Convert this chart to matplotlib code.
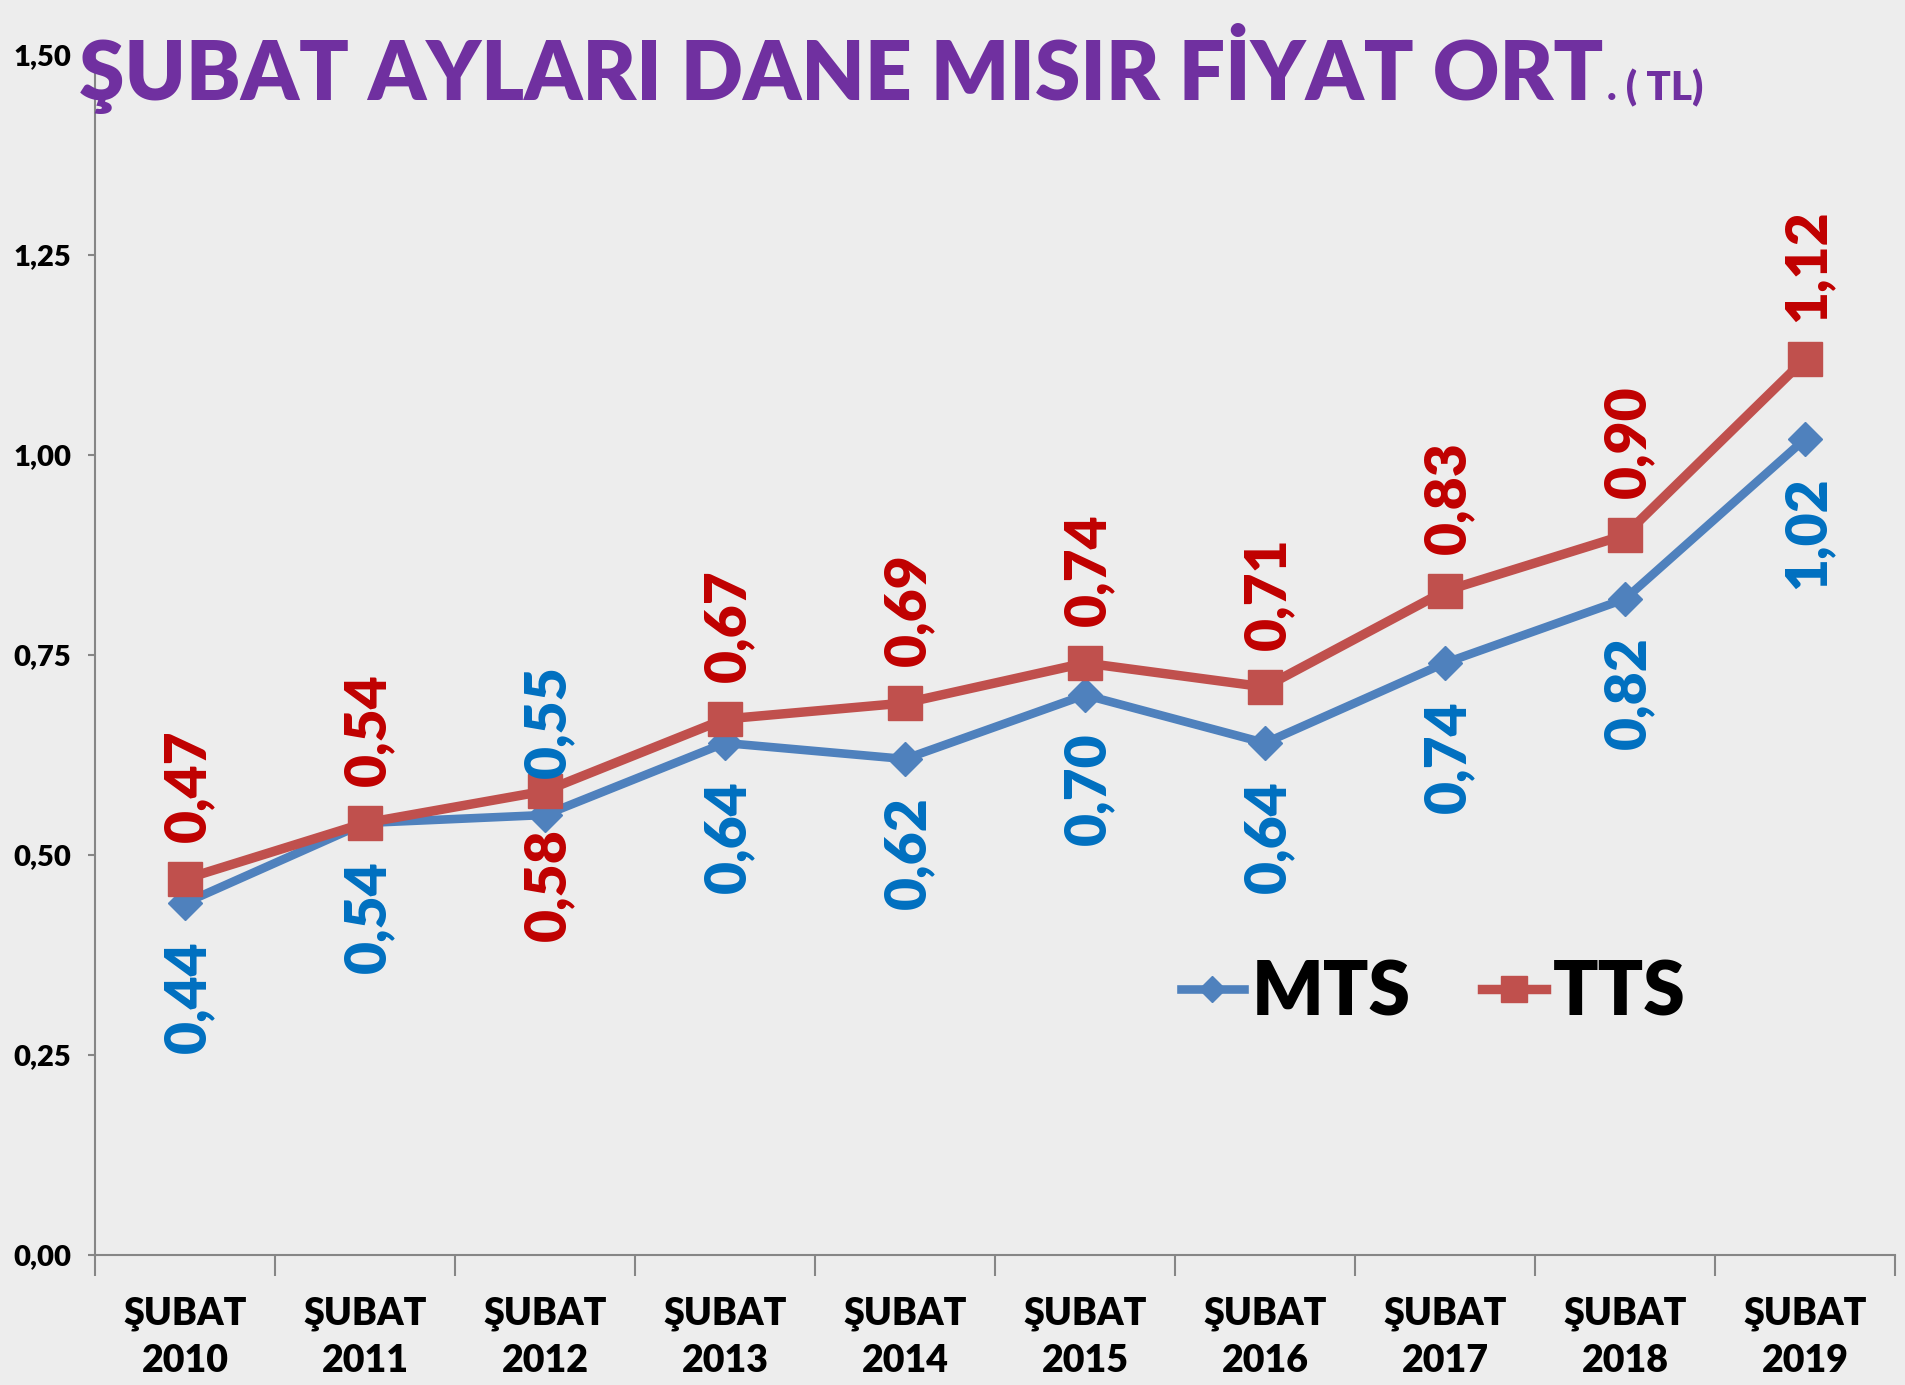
import matplotlib.pyplot as plt
from matplotlib.ticker import FixedLocator, FuncFormatter

plt.rcParams['font.family'] = ['Lato', 'DejaVu Sans']
plt.rcParams['font.weight'] = 'bold'

years = ["2010", "2011", "2012", "2013", "2014", "2015", "2016", "2017", "2018", "2019"]
mts = [0.44, 0.54, 0.55, 0.64, 0.62, 0.70, 0.64, 0.74, 0.82, 1.02]
tts = [0.47, 0.54, 0.58, 0.67, 0.69, 0.74, 0.71, 0.83, 0.90, 1.12]
# label above (+1) or below (-1) the point
mts_side = [-1, -1, 1, -1, -1, -1, -1, -1, -1, -1]
tts_side = [1, 1, -1, 1, 1, 1, 1, 1, 1, 1]
yticks = [0, 0.25, 0.5, 0.75, 1.0, 1.25, 1.5]

fig = plt.figure(figsize=(19.05, 13.85), dpi=100)
fig.patch.set_facecolor('#EDEDED')
ax = fig.add_axes([95/1905, 1 - 1255/1385, 1800/1905, 1200/1385])
ax.set_facecolor('none')

x = list(range(len(years)))
ax.plot(x, mts, color='#4F81BD', lw=6.2, marker='D', ms=17, label='MTS', zorder=3)
ax.plot(x, tts, color='#C0504D', lw=6.8, marker='s', ms=24, label='TTS', zorder=4)

def fmt(v):
    return f"{v:.2f}".replace('.', ',')

for i in x:
    for vals, side, col in ((mts, mts_side, '#0070C0'), (tts, tts_side, '#C00000')):
        ax.annotate(fmt(vals[i]), (i, vals[i]), xytext=(2, 27 * side[i]), textcoords='offset points',
                    rotation=90, ha='center', va='bottom' if side[i] > 0 else 'top',
                    fontsize=41, fontweight='heavy', color=col, zorder=5)

ax.set_xlim(-0.5, len(years) - 0.5)
ax.set_ylim(0, 1.5)
ax.set_yticks(yticks)
ax.yaxis.set_major_formatter(FuncFormatter(lambda v, p: fmt(v)))
ax.tick_params(axis='y', length=5, width=1.5, color='#868686', pad=12, labelsize=21)
for lbl in ax.get_yticklabels():
    lbl.set_fontweight('heavy')
ax.set_xticks(x)
ax.set_xticklabels(["ŞUBAT\n" + y for y in years], fontsize=27, fontweight='heavy', linespacing=1.45)
ax.tick_params(axis='x', which='major', length=0, pad=30)
ax.xaxis.set_minor_locator(FixedLocator([i - 0.5 for i in range(len(years) + 1)]))
ax.tick_params(axis='x', which='minor', length=15, width=1.5, color='#868686')
for s in ('top', 'right'):
    ax.spines[s].set_visible(False)
for s in ('left', 'bottom'):
    ax.spines[s].set_color('#868686')
    ax.spines[s].set_linewidth(1.5)

leg = fig.legend(loc='center left', bbox_to_anchor=(0.6, 0.283), ncol=2, frameon=False,
                 fontsize=54, handlelength=0.85, handletextpad=0.1, columnspacing=0.95,
                 borderpad=0, markerscale=0.8)
for t in leg.get_texts():
    t.set_fontweight('heavy')

t1 = fig.text(79/1905, 1 - 100/1385, "ŞUBAT AYLARI DANE MISIR FİYAT ORT", fontsize=59,
              fontweight='heavy', color='#7030A0', va='baseline', ha='left')
fig.canvas.draw()
bb = t1.get_window_extent().transformed(fig.transFigure.inverted())
fig.text(bb.x1 + 0.002, 1 - 100/1385, ". ( TL)", fontsize=29, fontweight='heavy',
         color='#7030A0', va='baseline', ha='left')

fig.savefig('out.png', dpi=100, facecolor=fig.get_facecolor())
